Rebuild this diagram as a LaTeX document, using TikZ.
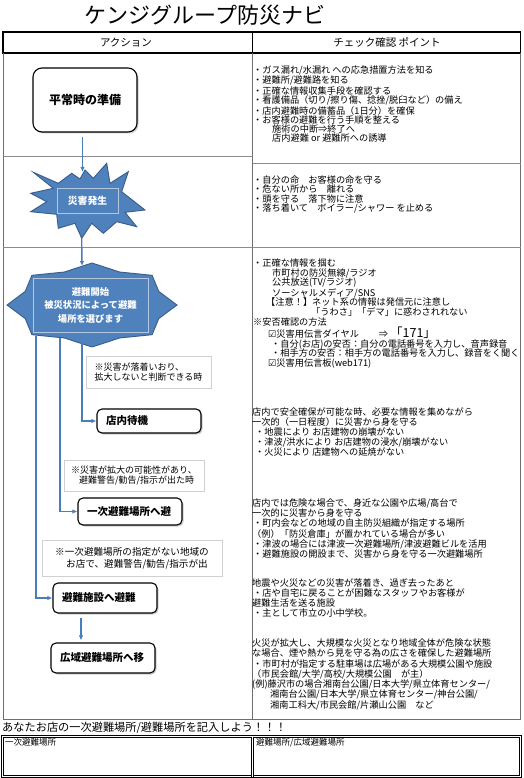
\documentclass[tikz,border=0pt]{standalone}
\usepackage{fontspec}
\setmainfont{Noto Sans CJK JP}
\newfontfamily\djv{DejaVu Sans}
\usetikzlibrary{shadows,arrows.meta}
\definecolor{bl}{HTML}{4F81BD}
\definecolor{bld}{HTML}{385D8A}
\definecolor{arr}{HTML}{4A7EBB}
\definecolor{tg}{HTML}{6E6E6E}
\definecolor{ng}{HTML}{D0D0D0}
\definecolor{ib}{HTML}{B4C7E0}
\tikzset{
  boxa/.style={draw=black, line width=1.1pt, rounded corners=5pt, fill=white,
    drop shadow={shadow xshift=1.5pt, shadow yshift=-1.5pt, opacity=0.4},
    minimum width=104pt, inner sep=0pt, text width=86pt, align=left,
    font=\fontsize{10.5}{12}\selectfont\bfseries},
  boxc/.style={draw=black, line width=1.1pt, rounded corners=9pt, fill=white,
    drop shadow={shadow xshift=1.5pt, shadow yshift=-1.5pt, opacity=0.4},
    minimum width=104pt, minimum height=64pt, inner sep=0pt, align=center,
    font=\fontsize{12}{14}\selectfont\bfseries},
  inrect/.style={fill=bl, draw=ib, line width=0.8pt, inner sep=0pt, text=white, align=center},
  note/.style={draw=ng, line width=0.8pt, inner sep=0pt, align=left,
    font=\fontsize{9}{10.5}\selectfont},
  txt/.style={anchor=north west, align=left, inner sep=0pt,
    font=\fontsize{9.2}{9.4}\selectfont},
  flow/.style={draw=arr, line width=1.4pt, -{Latex[length=5pt,width=4.5pt]}},
  tline/.style={draw=tg, line width=1.5pt},
  rline/.style={draw=tg!80, line width=0.8pt},
  hline/.style={draw=black, line width=1.8pt},
  burst/.style={fill=bl, draw=bld, line width=0.9pt, line join=miter},
  dbl/.style={draw=black, double, double distance=1.2pt, line width=0.6pt},
}
\begin{document}
\begin{tikzpicture}[x=1pt,y=-1pt]
\useasboundingbox[fill=white] (0,0) rectangle (524,778);

% title and header
\node[font=\fontsize{22}{24}\selectfont, inner sep=0pt] (title) at (205,15) {ケンジグループ防災ナビ};
\draw[hline] (3,32) rectangle (520.5,53);
\draw[hline] (252.5,32) -- (252.5,53);
\node[font=\fontsize{10.5}{12}\selectfont, inner sep=0pt] (hA) at (126,42.5) {アクション};
\node[font=\fontsize{10.5}{12}\selectfont, inner sep=0pt] (hB) at (387,42.5) {チェック確認 ポイント};

% table
\draw[tline] (3.3,53) -- (3.3,719.5) -- (520.5,719.5) -- (520.5,53);
\draw[tline] (252.5,53) -- (252.5,719.5);
\draw[rline] (3.3,156) -- (252.5,156);
\draw[rline] (252.5,163) -- (520.5,163);
\draw[rline] (3.3,247) -- (520.5,247);

% left column flow
\node[boxc] (prep) at (85,100) {平常時の準備};

\draw[burst] (33.3,172.3) -- (58.3,183.3) -- (71.7,173.3) -- (80,179) -- (85,170) -- (93.3,178.3)
  -- (106.7,163.3) -- (110,183.3) -- (128.3,171.7) -- (121.7,191.7) -- (145,210) -- (125,212.3)
  -- (136.7,226.7) -- (116.7,221.7) -- (103.3,233.3) -- (91.7,223.3) -- (81.7,238.3) -- (75,223.3)
  -- (58.3,228.3) -- (56.7,214.3) -- (30.7,211.7) -- (46.7,201.7) -- (30.7,193.3) -- (53.3,188.3) -- cycle;
\node[inrect, minimum width=61pt, minimum height=25pt, font=\fontsize{9.8}{11}\selectfont\bfseries] (hazard) at (87.5,200.5) {災害発生};
\coordinate (burstTop) at (82.5,172);
\coordinate (burstBot) at (81.7,238.3);

\draw[burst] (177,305) -- (158.75,291.34) -- (152.1,275.3) -- (119.65,272.02) -- (92,263)
  -- (64.35,272.02) -- (31.9,275.3) -- (25.25,291.34) -- (7,305) -- (25.25,318.66) -- (31.9,334.7)
  -- (64.35,337.98) -- (92,347) -- (119.65,337.98) -- (152.1,334.7) -- (158.75,318.66) -- cycle;
\node[inrect, minimum width=115pt, minimum height=54pt, font=\fontsize{9.3}{13.5}\selectfont\bfseries] (evac) at (90.5,305)
  {避難開始\\被災状況によって避難\\場所を選びます};
\coordinate (evacTop) at (82,266);
\coordinate (e1) at (82,343);
\coordinate (e2) at (60,337.5);
\coordinate (e3) at (36,335.5);

\node[boxa, minimum height=24pt] (wait) at (149,421) {店内待機};
\node[boxa, minimum height=27pt] (first) at (130,511.5) {一次避難場所へ避};
\node[boxa, minimum height=30pt] (shelter) at (105,598) {避難施設へ避難};
\node[boxa, minimum height=30pt] (wide) at (103,658) {広域避難場所へ移};

\node[note, minimum width=125pt, minimum height=32pt] (n1) at (148.5,372)
  {※災害が落着いおり、\\拡大しないと判断できる時};
\node[note, minimum width=140pt, minimum height=31pt] (n2) at (134,475.5)
  {※災害が拡大の可能性があり、\\\hspace*{8pt}避難警告/勧告/指示が出た時};
\node[note, minimum width=180pt, minimum height=36pt, font=\fontsize{9.6}{12}\selectfont] (n3) at (132,558)
  {※一次避難場所の指定がない地域の\\\hspace*{11pt}お店で、避難警告/勧告/指示が出};

\draw[flow, shorten <=4pt] (prep.south -| burstTop) -- (burstTop);
\draw[flow] (burstBot) -- (evacTop);
\draw[flow] (e1) |- (wait.west);
\draw[flow] (e2) |- (first.west);
\draw[flow] (e3) |- (shelter.west);
\draw[flow, shorten <=4pt, shorten >=2pt] ([xshift=-24pt]shelter.south) -- ([xshift=-22pt]wide.north);

% right column texts
\node[txt, font=\fontsize{9.2}{9.3}\selectfont] (tA) at (253,65.5) {%
・ガス漏れ/水漏れ への応急措置方法を知る\\
・避難所/避難路を知る\\
・正確な情報収集手段を確認する\\
・看護備品（切り/擦り傷、捻挫/脱臼など）の備え\\
・店内避難時の備蓄品（1日分）を確保\\
・お客様の避難を行う手順を整える\\
\hspace*{19pt}施術の中断⇒終了へ\\
\hspace*{19pt}店内避難 or 避難所への誘導};

\node[txt, font=\fontsize{9.2}{9.4}\selectfont] (tB) at (253,175.5) {%
・自分の命　お客様の命を守る\\
・危ない所から　離れる\\
・頭を守る　落下物に注意\\
・落ち着いて　ボイラー/シャワー を止める};

\node[txt, font=\fontsize{9.2}{9.6}\selectfont] (tC) at (253,258.5) {%
・正確な情報を掴む\\
\hspace*{19pt}市町村の防災無線/ラジオ\\
\hspace*{19pt}公共放送(TV/ラジオ)\\
\hspace*{19pt}ソーシャルメディア/SNS\\
\hspace*{13pt}【注意！】ネット系の情報は発信元に注意し\\
\hspace*{58pt}「うわさ」「デマ」に惑わされれない\\
※安否確認の方法\\
\hspace*{15pt}{\djv ☑}災害用伝言ダイヤル\hspace{20pt}⇒\hspace{2pt}{\fontsize{12.5}{12}\selectfont 「171」}\\
\hspace*{18pt}・自分(お店)の安否：自分の電話番号を入力し、音声録音\\
\hspace*{18pt}・相手方の安否：相手方の電話番号を入力し、録音をく聞く\\
\hspace*{15pt}{\djv ☑}災害用伝言板(web171)};

\node[txt, font=\fontsize{9.2}{10}\selectfont] (tD) at (252,407.8) {%
店内で安全確保が可能な時、必要な情報を集めながら\\
一次的（一日程度）に災害から身を守る\\
\hspace*{3pt}・地震により お店建物の崩壊がない\\
\hspace*{3pt}・津波/洪水により お店建物の浸水/崩壊がない\\
\hspace*{3pt}・火災により 店建物への延焼がない};

\node[txt, font=\fontsize{9.2}{10.2}\selectfont] (tE) at (252,498.5) {%
店内では危険な場合で、身近な公園や広場/高台で\\
一次的に災害から身を守る\\
\hspace*{1pt}・町内会などの地域の自主防災組織が指定する場所\\
（例）「防災倉庫」が置かれている場合が多い\\
\hspace*{1pt}・津波の場合には津波一次避難場所/津波避難ビルを活用\\
\hspace*{1pt}・避難施設の開設まで、災害から身を守る一次避難場所};

\node[txt, font=\fontsize{9.2}{10}\selectfont] (tF) at (252,578.5) {%
地震や火災などの災害が落着き、過ぎ去ったあと\\
\hspace*{1pt}・店や自宅に戻ることが困難なスタッフやお客様が\\
避難生活を送る施設\\
\hspace*{1pt}・主として市立の小中学校。};

\node[txt, font=\fontsize{9.2}{10.3}\selectfont] (tG) at (252,638.5) {%
火災が拡大し、大規模な火災となり地域全体が危険な状態\\
な場合、煙や熱から見を守る為の広さを確保した避難場所\\
\hspace*{1pt}・市町村が指定する駐車場は広場がある大規模公園や施設\\
（市民会館/大学/高校/大規模公園　が主）\\
(例)藤沢市の場合湘南台公園/日本大学/県立体育センター/\\
\hspace*{18pt}湘南台公園/日本大学/県立体育センター/神台公園/\\
\hspace*{18pt}湘南工科大/市民会館/片瀬山公園　など};

% bottom fill-in area
\node[anchor=west, inner sep=0pt, font=\fontsize{11.2}{13}\selectfont] (cta) at (2,729)
  {\underline{あなたお店の一次避難場所/避難場所を記入しよう！！！}};
\draw[dbl] (2.5,736.5) rectangle (520.5,776.5);
\draw[dbl] (252.5,736.5) -- (252.5,776.5);
\node[anchor=west, inner sep=0pt, font=\fontsize{8.5}{10}\selectfont] (f1) at (5,742.5) {一次避難場所};
\node[anchor=west, inner sep=0pt, font=\fontsize{8.5}{10}\selectfont] (f2) at (256,742.5) {避難場所/広域避難場所};
\end{tikzpicture}
\end{document}
